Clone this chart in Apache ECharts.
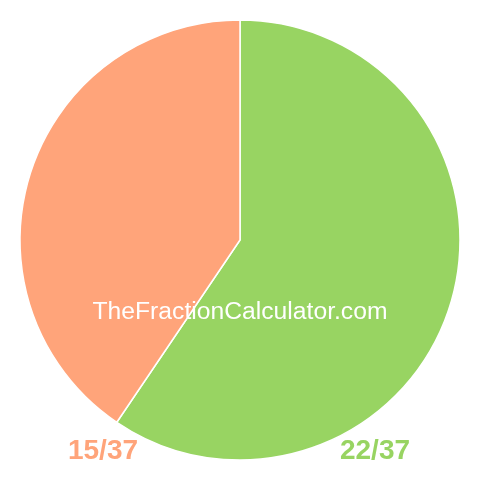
<!DOCTYPE html>
<html lang="en">
<head>
    <meta charset="utf-8">
    <title>22/37 pie</title>
    <style>
        html, body { margin: 0; padding: 0; background: #fff; }
        #main { width: 480px; height: 480px; }
    </style>
</head>
<body>
<div id="main"></div>
<script src="https://cdn.jsdelivr.net/npm/echarts@6/dist/echarts.min.js"></script>
<script type="text/javascript">
    // slices, clockwise from 12 o'clock
    var names = ['22/37', '15/37'];
    var values = [22, 15];
    var colors = ['#98d462', '#ffa47a'];
    // label x-centres under the pie
    var labelX = [375, 103];
    var watermark = 'TheFractionCalculator.com';

    var myChart = echarts.init(document.getElementById('main'));

    var data = names.map(function (n, i) {
        return {name: n, value: values[i], itemStyle: {color: colors[i]}};
    });

    var labels = names.map(function (n, i) {
        return {
            type: 'text',
            x: labelX[i],
            y: 451,
            style: {
                text: n,
                fill: colors[i],
                font: 'bold 28px "Liberation Sans", Arial, sans-serif',
                textAlign: 'center',
                textVerticalAlign: 'middle'
            }
        };
    });

    myChart.setOption({
        animation: false,
        series: [{
            type: 'pie',
            center: [240, 240],
            radius: [0, 220],
            startAngle: 90,
            clockwise: true,
            label: {show: false},
            labelLine: {show: false},
            emphasis: {disabled: true},
            itemStyle: {borderColor: '#fff', borderWidth: 1.5},
            data: data
        }],
        graphic: labels.concat([{
            type: 'text',
            x: 240,
            y: 312,
            z: 100,
            style: {
                text: watermark,
                fill: '#fff',
                font: '24.7px "Liberation Sans", Arial, sans-serif',
                textAlign: 'center',
                textVerticalAlign: 'middle'
            }
        }])
    });
</script>
</body>
</html>
